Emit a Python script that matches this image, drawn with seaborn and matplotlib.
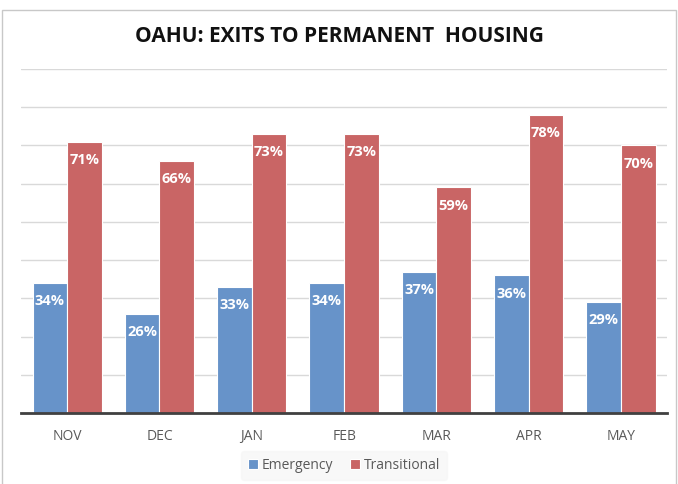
import pandas as pd
import seaborn as sns
import matplotlib.pyplot as plt
from matplotlib.patches import Rectangle

months = ["NOV", "DEC", "JAN", "FEB", "MAR", "APR", "MAY"]
emergency = [34, 26, 33, 34, 37, 36, 29]
transitional = [71, 66, 73, 73, 59, 78, 70]

df = pd.DataFrame({"Month": months, "Emergency": emergency, "Transitional": transitional})
df_long = df.melt(id_vars="Month", var_name="Type", value_name="pct")
df_long["frac"] = df_long["pct"] / 100

sns.set_style("white")
plt.rcParams["font.family"] = ["Open Sans", "DejaVu Sans"]

fig = plt.figure(figsize=(6.78, 4.84), dpi=100)
ax = fig.add_axes([0.031, 0.1467, 0.953, 0.7107])

ax = sns.barplot(data=df_long, x="Month", y="frac", hue="Type", order=months,
                 palette=["#6793c9", "#c96565"], width=0.75, edgecolor="white",
                 linewidth=0.8, ax=ax, saturation=1)

for container in ax.containers:
    for bar in container:
        h = bar.get_height()
        ax.annotate("%d%%" % round(h * 100), (bar.get_x() + bar.get_width() / 2, h),
                    xytext=(0, -8), textcoords="offset points", ha="center", va="top",
                    color="white", fontweight="bold", fontsize=10.5)

ax.set_ylim(0, 0.9)
ax.set_yticks([i / 10 for i in range(1, 10)])
ax.yaxis.grid(True, color="#d9d9d9", linewidth=1)
ax.set_axisbelow(True)
ax.tick_params(axis="y", left=False, labelleft=False)
ax.tick_params(axis="x", bottom=False, labelsize=10, colors="#595959", pad=8)
for s in ["top", "right", "left"]:
    ax.spines[s].set_visible(False)
ax.spines["bottom"].set_color("#404040")
ax.spines["bottom"].set_linewidth(2)
ax.set_xlabel("")
ax.set_ylabel("")

ax.legend(loc="center", bbox_to_anchor=(0.5, -0.152), ncol=2, frameon=True,
          facecolor="#f7f7f7", edgecolor="#f7f7f7", fontsize=10, handlelength=0.7,
          handleheight=0.7, handletextpad=0.3, columnspacing=1.2, labelcolor="#595959",
          borderpad=0.5)

fig.text(0.5, 0.925, "OAHU: EXITS TO PERMANENT  HOUSING", ha="center", va="center",
         fontsize=15, fontweight="bold", color="#111111")

fig.patches.append(Rectangle((0.003, -0.01), 0.994, 0.99, transform=fig.transFigure,
                             fill=False, edgecolor="#c8c8c8", linewidth=1))

plt.savefig("out.png", dpi=100)
